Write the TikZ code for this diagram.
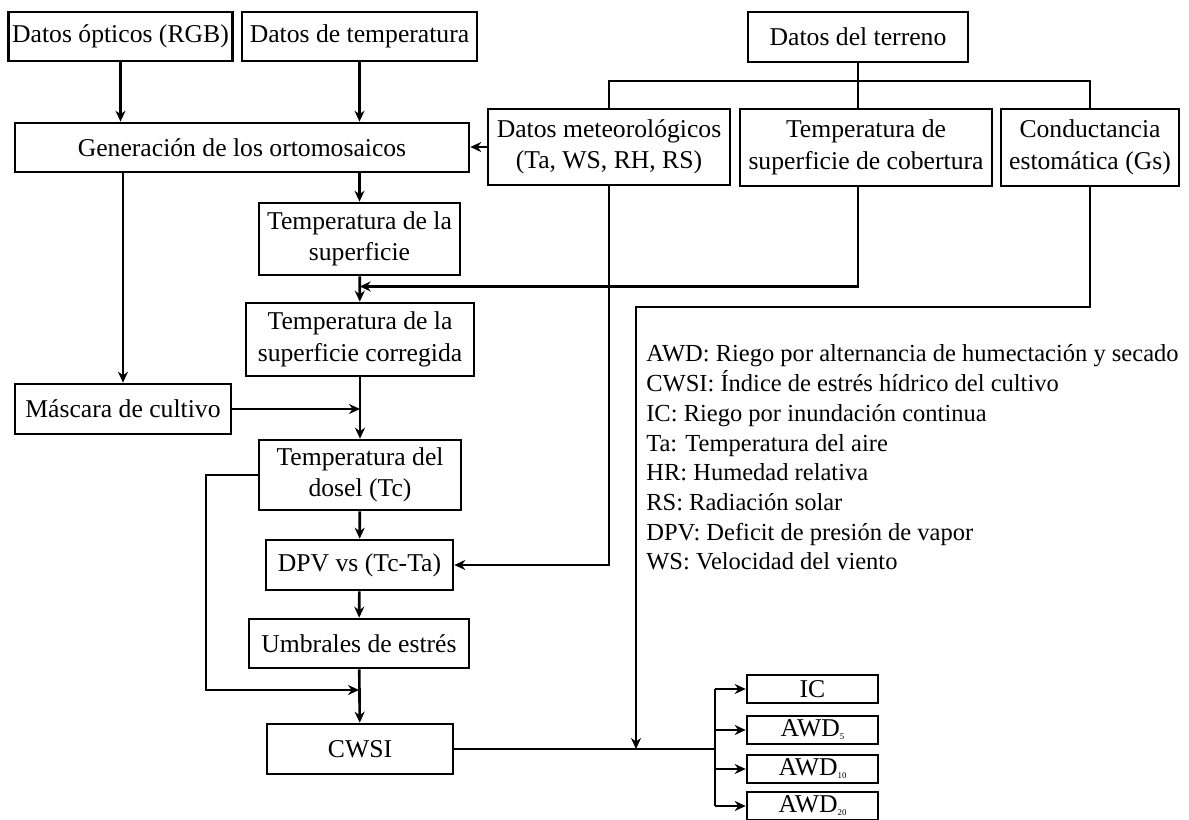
\documentclass[tikz,border=0pt]{standalone}
\usepackage{fontspec}
\setmainfont{Liberation Serif}
\usetikzlibrary{arrows.meta,calc}
\newcommand{\awd}[1]{AWD\raisebox{-0.25ex}{\fontsize{5}{5}\selectfont #1}}

\begin{document}
\begin{tikzpicture}[x=0.02cm,y=-0.02cm,line width=1.5pt,>={Stealth[length=2.2mm,width=2mm]},
  box/.style={draw,align=center,inner sep=2pt,font=\fontsize{14.6}{18}\selectfont},
  outbox/.style={draw,inner sep=0pt,minimum width=2.62cm,minimum height=0.56cm,font=\fontsize{14.6}{14.6}\selectfont},
  legtext/.style={anchor=base west,inner sep=0pt,font=\fontsize{13.95}{17}\selectfont}]
  \useasboundingbox (0,0) rectangle (1189,820);

  \node[box,minimum width=4.46cm,minimum height=0.98cm] (opt) at (120.5,36.5) {Datos ópticos (RGB)};
  \node[box,minimum width=4.70cm,minimum height=0.98cm] (temp) at (359.5,36.5) {Datos de temperatura};
  \node[box,minimum width=4.40cm,minimum height=1.00cm] (terr) at (858,37) {Datos del terreno};
  \node[box,minimum width=9.08cm,minimum height=0.98cm] (gen) at (242,147.5) {Generación de los ortomosaicos};
  \node[box,minimum width=4.84cm,minimum height=1.52cm] (met) at (609,147) {Datos meteorológicos\\(Ta, WS, RH, RS)};
  \node[box,minimum width=5.04cm,minimum height=1.54cm] (tsc) at (866,147.5) {Temperatura de\\superficie de cobertura};
  \node[box,minimum width=3.56cm,minimum height=1.54cm] (cond) at (1090,147.5) {Conductancia\\estomática (Gs)};
  \node[box,minimum width=4.02cm,minimum height=1.44cm] (ts) at (359.5,239) {Temperatura de la\\superficie};
  \node[box,minimum width=4.56cm,minimum height=1.46cm] (tsco) at (360,339.5) {Temperatura de la\\superficie corregida};
  \node[box,minimum width=4.32cm,minimum height=1.00cm] (mask) at (123,409) {Máscara de cultivo};
  \node[box,minimum width=4.04cm,minimum height=1.40cm] (tc) at (360,475) {Temperatura del\\dosel (Tc)};
  \node[box,minimum width=3.74cm,minimum height=1.00cm] (dpv) at (359.5,565) {DPV vs (Tc-Ta)};
  \node[box,minimum width=4.40cm,minimum height=0.98cm] (umb) at (359,643.5) {Umbrales de estrés};
  \node[box,minimum width=3.72cm,minimum height=1.00cm] (cwsi) at (360,749) {CWSI};
  \node[outbox] (ic) at (812.5,689) {IC};
  \node[outbox] (awd5) at (812.5,730) {\awd{5}};
  \node[outbox] (awd10) at (812.5,769) {\awd{10}};
  \node[outbox] (awd20) at (812.5,806) {\awd{20}};

  \coordinate (jt) at (858,81);
  \coordinate (jts) at ($(ts.south)!0.4!(tsco.north)$);
  \coordinate (jm) at (tsco.south |- mask.east);
  \coordinate (jl) at (206,690);
  \coordinate (ju) at (umb.south |- jl);
  \coordinate (jg) at (636,307);
  \coordinate (jo) at (715,749);

  \draw[->] (opt) -- (opt |- gen.north);
  \draw[->] (temp) -- (temp |- gen.north);
  \draw[->] (met.west) -- (met.west -| gen.east);
  \draw (terr.south) -- (jt) (met.north) |- (jt) -| (cond.north) (jt) -- (jt |- tsc.north);
  \draw[->] (gen.south -| ts) -- (ts);
  \draw[->] (ts) -- (tsco);
  \draw[->] (tsc.south -| jt) |- (jts);
  \draw[->] (gen.south -| mask) -- (mask);
  \draw[->] (tsco) -- (tc);
  \draw[->] (mask) -- (jm);
  \draw[->] (tc) -- (dpv);
  \draw[->] (met.south) |- (dpv);
  \draw[->] (tc.west) -- (tc.west -| jl) |- (ju);
  \draw[->] (dpv) -- (umb);
  \draw[->] (umb) -- (cwsi);
  \draw (cwsi) -- (jo);
  \draw[->] (cond.south) |- (jg) -- (jg |- cwsi.east);
  \draw (jo |- ic.west) -- (jo |- awd20.west);
  \foreach \n in {ic,awd5,awd10,awd20}
    \draw[->] (jo |- \n.west) -- (\n.west);

  \foreach \i/\txt in {0/{AWD: Riego por alternancia de humectación y secado},
                       1/{CWSI: Índice de estrés hídrico del cultivo},
                       2/{IC: Riego por inundación continua},
                       3/{Ta: Temperatura del aire},
                       4/{HR: Humedad relativa},
                       5/{RS: Radiación solar},
                       6/{DPV: Deficit de presión de vapor},
                       7/{WS: Velocidad del viento}}
    \node[legtext] (leg\i) at (645,362+29.7*\i) {\txt};
\end{tikzpicture}
\end{document}
